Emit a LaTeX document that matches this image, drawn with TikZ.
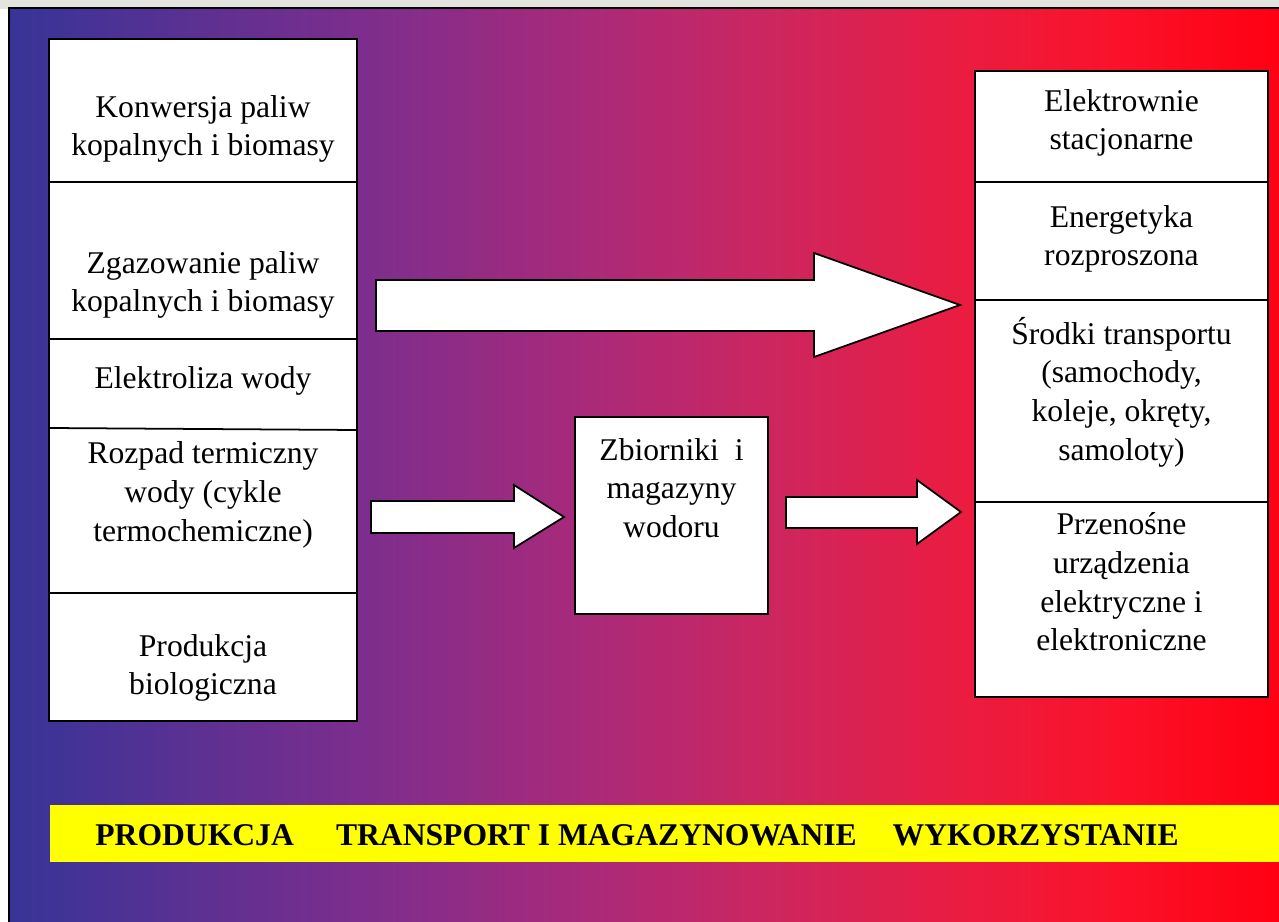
\documentclass[tikz,border=0pt]{standalone}
\usepackage{fontspec}
\setmainfont{Liberation Serif}
\definecolor{g0}{RGB}{55,52,152}
\definecolor{g1}{RGB}{130,45,140}
\definecolor{g2}{RGB}{168,42,122}
\definecolor{g3}{RGB}{205,38,95}
\definecolor{g4}{RGB}{235,28,65}
\definecolor{g5}{RGB}{250,18,42}
\definecolor{g6}{RGB}{255,0,18}
\definecolor{bandyellow}{RGB}{255,255,0}
\definecolor{framegray}{RGB}{228,228,222}
\pgfdeclarehorizontalshading{bgshade}{100bp}{color(0bp)=(g0); color(25bp)=(g0); color(40bp)=(g1); color(47.5bp)=(g2); color(55bp)=(g3); color(62.5bp)=(g4); color(68.5bp)=(g5); color(75bp)=(g6); color(100bp)=(g6)}
\tikzset{
  boxline/.style={draw=black, line width=1pt},
  boxfill/.style={boxline, fill=white},
  lbl/.style={align=center, font=\fontsize{18}{22}\selectfont, inner sep=0pt},
  blockarrow/.style={draw=black, line width=1pt, fill=white, line join=miter},
  bandtext/.style={font=\fontsize{18}{22}\selectfont\bfseries, inner sep=0pt, anchor=base west}
}
\begin{document}
\begin{tikzpicture}[x=0.02cm, y=-0.02cm]
\useasboundingbox (0,0) rectangle (1279,922);
% frame
\fill[framegray] (0,0) rectangle (1279,922);
\fill[white] (0,9) rectangle (9,922);
\shade[shading=bgshade] (9,8) rectangle (1279,922);
\draw[black, line width=1pt] (9,922) -- (9,8) -- (1279,8);

% left column (production)
\draw[boxfill] (49,39) rectangle (357,721);
\draw[boxline] (49,182) -- (357,182);
\draw[boxline] (49,339) -- (357,339);
\draw[boxline] (49,428) -- (357,430);
\draw[boxline] (49,593) -- (357,593);
\node[lbl] (p1) at (203,129) {Konwersja paliw\\kopalnych i biomasy};
\node[lbl] (p2) at (203,285) {Zgazowanie paliw\\kopalnych i biomasy};
\node[lbl] (p3) at (203,381) {Elektroliza wody};
\node[lbl] (p4) at (203,495) {Rozpad termiczny\\wody (cykle\\termochemiczne)};
\node[lbl] (p5) at (203,668) {Produkcja\\biologiczna};

% middle box (storage)
\draw[boxfill] (575,417) rectangle (768,614);
\node[lbl] (s1) at (671.5,488) {Zbiorniki\ \ i\\magazyny\\wodoru};

% right column (use)
\draw[boxfill] (975,71) rectangle (1268,697);
\draw[boxline] (975,182) -- (1268,182);
\draw[boxline] (975,300) -- (1268,300);
\draw[boxline] (975,502) -- (1268,502);
\node[lbl] (u1) at (1121.5,123) {Elektrownie\\stacjonarne};
\node[lbl] (u2) at (1121.5,239) {Energetyka\\rozproszona};
\node[lbl] (u3) at (1121.5,392) {Środki transportu\\(samochody,\\koleje, okręty,\\samoloty)};
\node[lbl] (u4) at (1121.5,582) {Przenośne\\urządzenia\\elektryczne i\\elektroniczne};

% block arrows
\draw[blockarrow] (376,280) -- (814,280) -- (814,253) -- (960,305) -- (814,357) -- (814,331) -- (376,331) -- cycle;
\draw[blockarrow] (371,501) -- (514,501) -- (514,485) -- (564,517) -- (514,548) -- (514,533) -- (371,533) -- cycle;
\draw[blockarrow] (786,497) -- (917,497) -- (917,480) -- (961,512) -- (917,544) -- (917,528) -- (786,528) -- cycle;

% bottom band
\fill[bandyellow] (50,805) rectangle (1279,862);
\node[bandtext] (band) at (95,845) {PRODUKCJA\hspace{24pt}TRANSPORT I MAGAZYNOWANIE\hspace{20.5pt}WYKORZYSTANIE};
\end{tikzpicture}
\end{document}
